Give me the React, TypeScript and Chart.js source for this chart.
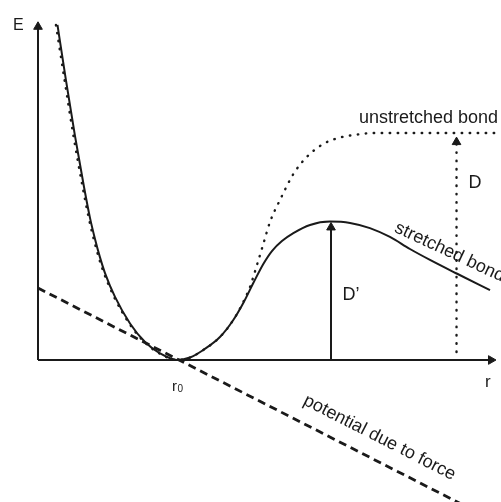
import React, { useEffect, useRef } from "react";
import { Chart, registerables } from "chart.js";

Chart.register(...registerables);

// r in units of r0-scaled distance, E in units of D (bond energy)
const unstretchedR = [0.129, 0.191, 0.255, 0.321, 0.365, 0.401, 0.437, 0.474, 0.547, 0.656, 0.765, 0.874, 1.0, 1.094, 1.189, 1.309, 1.405, 1.477, 1.525, 1.573, 1.621, 1.669, 1.741, 1.837, 1.933, 2.053, 2.173, 2.293, 2.41, 3.331];
const unstretchedE = [1.476, 1.233, 0.987, 0.762, 0.626, 0.533, 0.452, 0.383, 0.278, 0.161, 0.079, 0.029, 0.0, 0.011, 0.044, 0.101, 0.176, 0.256, 0.322, 0.414, 0.511, 0.608, 0.705, 0.819, 0.894, 0.952, 0.98, 0.993, 1.0, 1.0];

const stretchedR = [0.14, 0.201, 0.266, 0.331, 0.374, 0.41, 0.446, 0.482, 0.554, 0.662, 0.77, 0.878, 1.0, 1.094, 1.189, 1.309, 1.405, 1.477, 1.549, 1.621, 1.683, 1.755, 1.837, 1.957, 2.101, 2.245, 2.388, 2.532, 2.676, 2.82, 3.012, 3.252];
const stretchedE = [1.476, 1.233, 0.987, 0.762, 0.626, 0.533, 0.452, 0.383, 0.278, 0.161, 0.079, 0.029, 0.0, 0.011, 0.044, 0.101, 0.176, 0.251, 0.339, 0.423, 0.48, 0.524, 0.559, 0.595, 0.61, 0.604, 0.581, 0.542, 0.489, 0.441, 0.381, 0.308];

const forceR = [0.0, 3.05];
const forceE = [0.317, -0.636];

const xAxisR = [0.0, 3.259];
const xAxisE = [0.0, 0.0];
const yAxisR = [0.0, 0.0];
const yAxisE = [0.0, 1.468];

const barrierR = [2.108, 2.108];
const barrierE = [0.0, 0.584];
const depthR = [3.011, 3.011];
const depthE = [0.035, 0.96];

const rMin = -0.2734;
const rMax = 3.331;
const eMin = -0.6256;
const eMax = 1.586;

const pts = (xs: number[], ys: number[]) => xs.map((x, i) => ({ x, y: ys[i] }));

const INK = "#1a1a1a";
const FONT = '"Liberation Sans", Arial, Helvetica, sans-serif';

const labelPlugin = {
  id: "labels",
  afterDatasetsDraw(chart: any) {
    const { ctx, scales } = chart;
    const X = (v: number) => scales.x.getPixelForValue(v);
    const Y = (v: number) => scales.y.getPixelForValue(v);
    ctx.save();
    ctx.fillStyle = INK;
    ctx.textBaseline = "alphabetic";
    ctx.textAlign = "left";
    const put = (t: string, r: number, e: number, size: number, rot = 0) => {
      ctx.save();
      ctx.translate(X(r), Y(e));
      if (rot) ctx.rotate((rot * Math.PI) / 180);
      ctx.font = `${size}px ${FONT}`;
      ctx.fillText(t, 0, 0);
      ctx.restore();
    };
    put("E", -0.18, 1.454, 16);
    put("r", 3.216, -0.118, 17);
    put("r", 0.964, -0.135, 15);
    put("0", 0.964 + 5.6 / 139, -0.141, 10);
    put("unstretched bond", 2.309, 1.043, 18);
    put("D", 3.098, 0.756, 18);
    put("D\u2019", 2.191, 0.264, 18);
    put("stretched bond", 2.558, 0.566, 18, 25);
    put("potential due to force", 1.902, -0.194, 18, 27);
    ctx.restore();
  },
};

export default function App() {
  const ref = useRef<HTMLCanvasElement>(null);
  useEffect(() => {
    if (!ref.current) return;
    const arrow = {
      pointStyle: "triangle",
      pointRadius: [0, 5],
      pointBackgroundColor: INK,
      pointBorderColor: INK,
      pointBorderWidth: 1,
    };
    const chart = new Chart(ref.current, {
      type: "line",
      data: {
        datasets: [
          {
            data: pts(forceR, forceE),
            borderColor: INK,
            borderWidth: 2.8,
            borderDash: [8, 5],
            pointRadius: 0,
          },
          {
            data: pts(unstretchedR, unstretchedE),
            borderColor: INK,
            borderWidth: 2.4,
            borderDash: [0.5, 7.5],
            borderCapStyle: "round",
            cubicInterpolationMode: "monotone",
            pointRadius: 0,
          },
          {
            data: pts(stretchedR, stretchedE),
            borderColor: INK,
            borderWidth: 2,
            cubicInterpolationMode: "monotone",
            pointRadius: 0,
          },
          {
            data: pts(xAxisR, xAxisE),
            borderColor: INK,
            borderWidth: 2,
            ...arrow,
            pointRotation: [0, 90],
          },
          {
            data: pts(yAxisR, yAxisE),
            borderColor: INK,
            borderWidth: 2,
            ...arrow,
            pointRotation: [0, 0],
          },
          {
            data: pts(barrierR, barrierE),
            borderColor: INK,
            borderWidth: 2,
            ...arrow,
            pointRotation: [0, 0],
          },
          {
            data: pts(depthR, depthE),
            borderColor: INK,
            borderWidth: 2.4,
            borderDash: [0.5, 7.8],
            borderCapStyle: "round",
            ...arrow,
            pointRotation: [0, 0],
          },
        ] as any,
      },
      options: {
        animation: false,
        responsive: false,
        events: [],
        layout: { padding: 0, autoPadding: false },
        plugins: { legend: { display: false }, tooltip: { enabled: false } },
        scales: {
          x: { type: "linear", min: rMin, max: rMax, display: false },
          y: { type: "linear", min: eMin, max: eMax, display: false },
        },
      } as any,
      plugins: [labelPlugin],
    });
    return () => chart.destroy();
  }, []);
  return (
    <div style={{ position: "absolute", left: 0, top: 0, width: 501, height: 502, background: "#fff" }}>
      <canvas ref={ref} width={501} height={502} style={{ display: "block" }} />
    </div>
  );
}
